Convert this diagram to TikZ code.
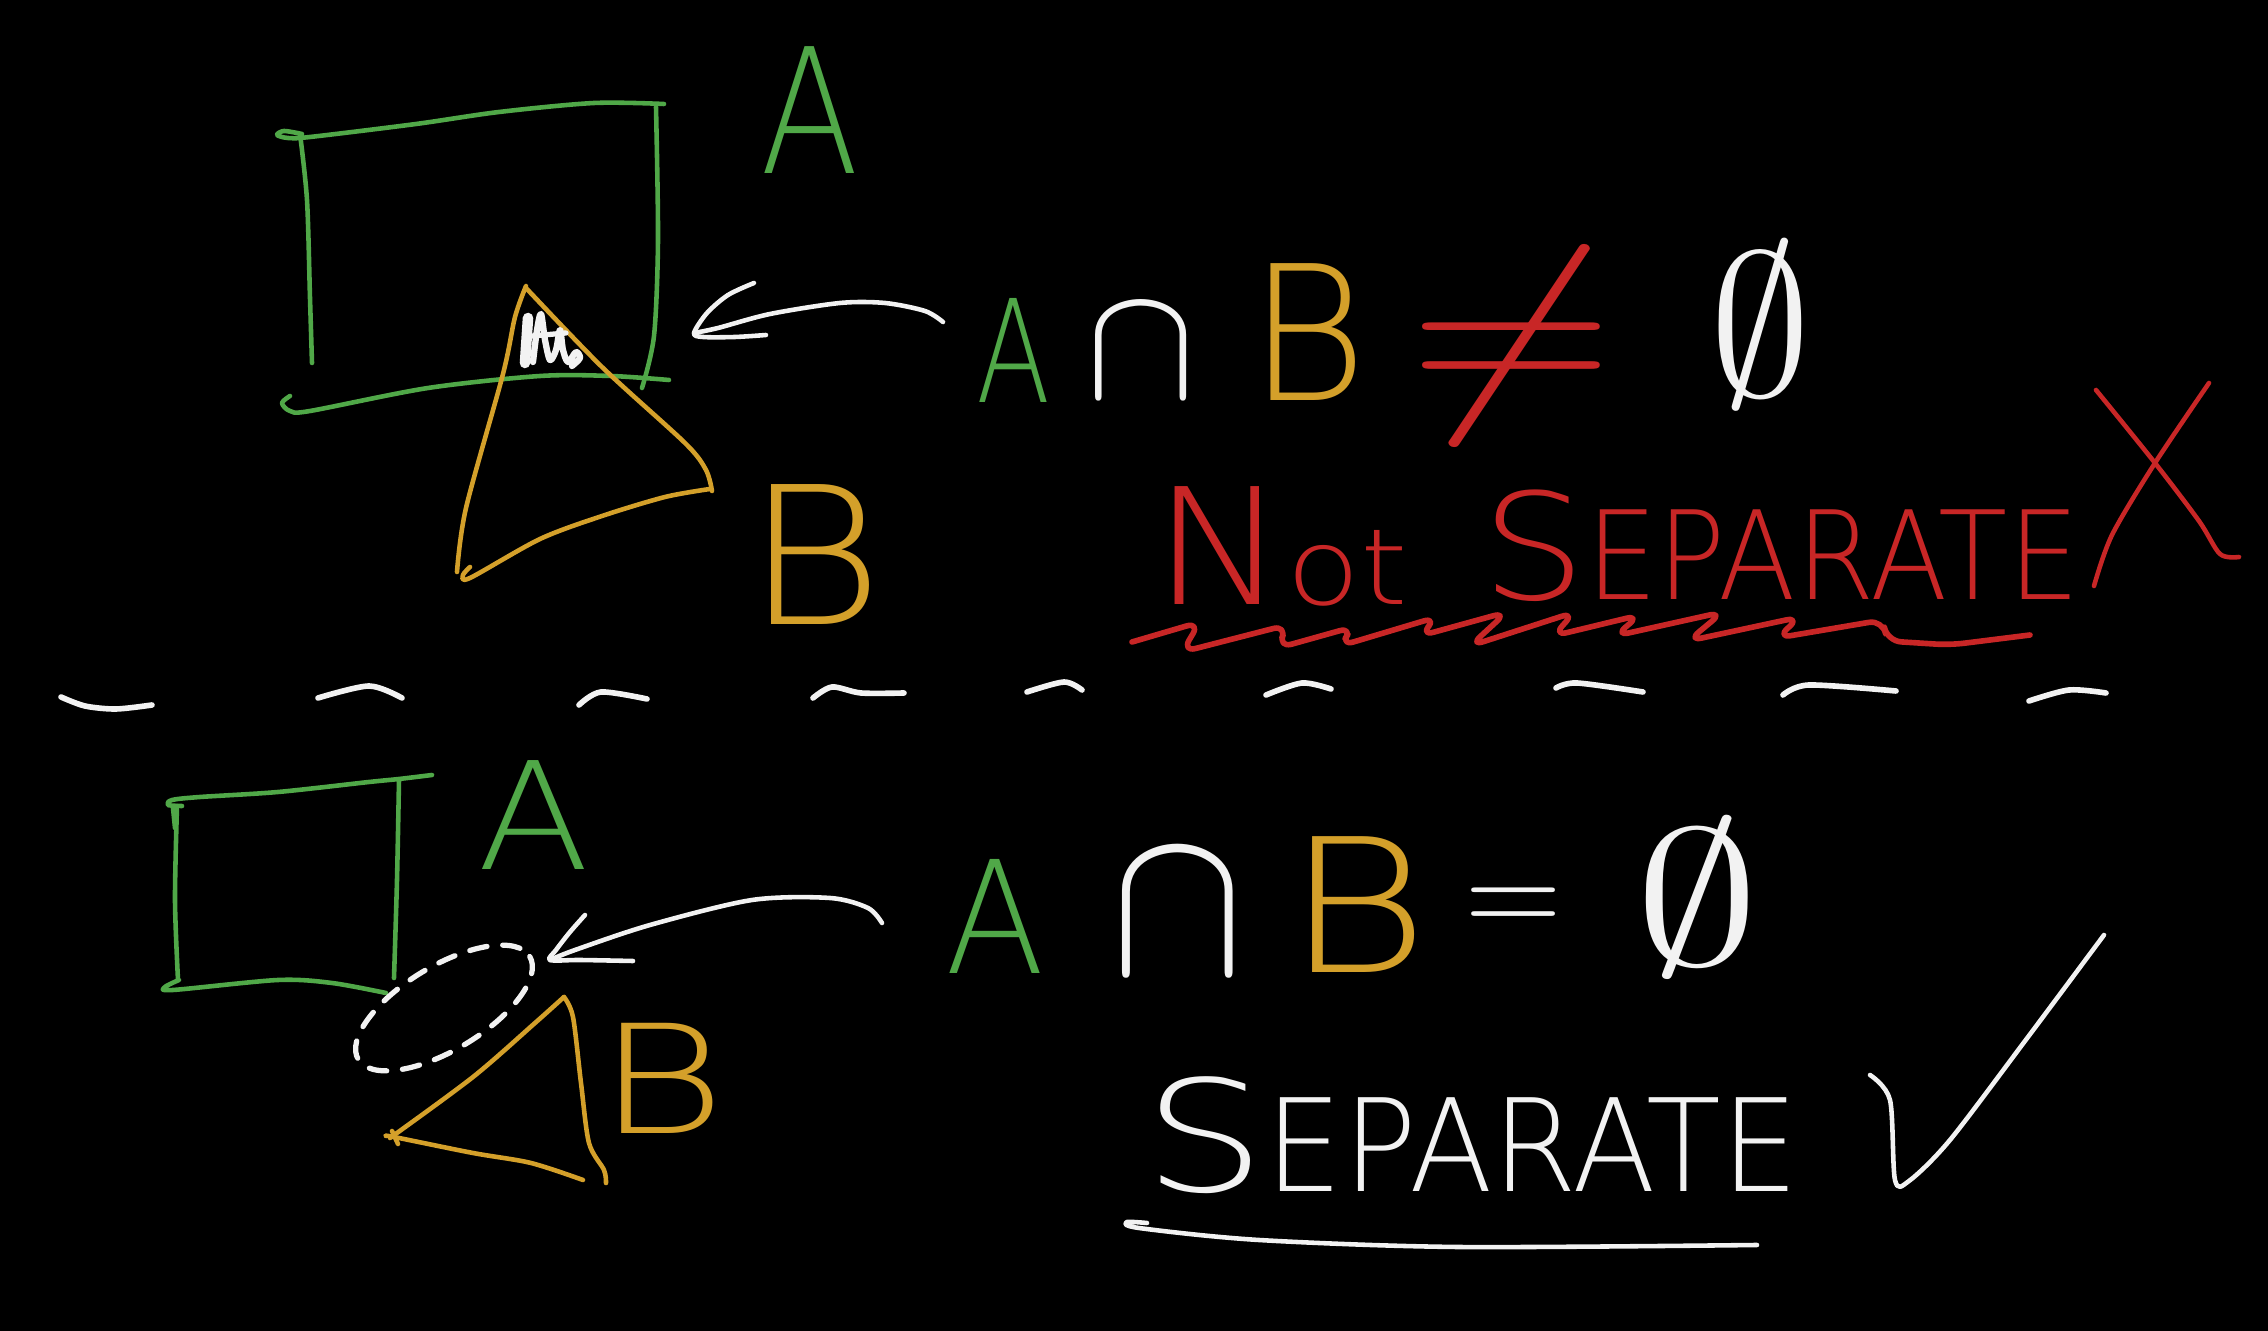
\RequirePackage{fix-cm}
\documentclass[tikz,border=0pt]{standalone}
\usepackage{fontspec}
\newfontfamily\hand{DejaVu Sans ExtraLight}
\definecolor{hgreen}{RGB}{80,168,72}
\definecolor{hgold}{RGB}{212,160,42}
\definecolor{hred}{RGB}{200,38,38}
\definecolor{hwhite}{RGB}{242,242,242}
\newcommand\hsz[1]{\fontsize{#1}{#1}\selectfont}
\newcommand\hx[2]{\scalebox{#1}[1]{#2}}
\tikzset{
  hs/.style={line width=1.3pt, line cap=round, line join=round},
  gstroke/.style={hs, draw=hgreen},
  ostroke/.style={hs, draw=hgold},
  wstroke/.style={hs, draw=hwhite},
  rstroke/.style={hs, draw=hred},
  dashw/.style={hs, draw=hwhite, line width=1.6pt},
  lbl/.style={inner sep=0pt, outer sep=0pt, font=\hand},
}
\begin{document}
\begin{tikzpicture}[x=0.01cm,y=-0.01cm]
\fill[black] (0,0) rectangle (2268,1331);
\useasboundingbox (0,0) rectangle (2268,1331);

% ---------- top: rectangle A ----------
\draw[gstroke] plot[smooth] coordinates {(302,134) (284,131) (277,135) (288,138) (310,137) (416,124) (499,112) (594,103) (664,104)};
\draw[gstroke] plot[smooth] coordinates {(300,134) (307,200) (310,298) (312,363)};
\draw[gstroke] plot[smooth] coordinates {(656,107) (658,240) (654,336) (642,388)};
\draw[gstroke] plot[smooth] coordinates {(290,396) (282,403) (290,411) (310,411) (428,388) (540,376) (611,376) (669,380)};
% ---------- top: triangle B ----------
\draw[ostroke] plot[smooth] coordinates {(526,286) (515,317) (503,374) (466,508) (457,572)};
\draw[ostroke] plot[smooth] coordinates {(470,567) (463,575) (470,578) (540,539) (602,516) (665,497) (710,489)};
\draw[ostroke] plot[smooth] coordinates {(526,288) (602,367) (685,443) (706,470) (712,491)};
% scribble in the overlap
\draw[wstroke, line width=3pt] (528,318) -- (525,363);
\draw[wstroke, line width=1.8pt] plot[smooth] coordinates {(533,362) (537,330) (541,314) (545,340) (550,360) (556,350) (560,330) (563,350) (568,362) (576,352) (580,358) (572,366)};
\draw[wstroke, line width=1.5pt] (532,336) -- (566,333);

% labels top
\node[lbl,text=hgreen] (Atop) at (810,110) {\hsz{49.5}\hx{.83}{A}};
\node[lbl,text=hgold] (Btop) at (815,555) {\hsz{54.6}\hx{1.1}{B}};

% formula top
\node[lbl,text=hgreen] (fA1) at (1014,350) {\hsz{40.6}\hx{.76}{A}};
\node[lbl,text=hwhite] (fcap1) at (1141,352) {\hsz{46.6}$\cap$};
\node[lbl,text=hgold] (fB1) at (1308,332) {\hsz{53.4}\hx{.97}{B}};
\node[lbl,text=hred] (fneq) at (1512,346) {\hsz{62}\hx{1.3}{$\neq$}};
\node[lbl,text=hwhite] (fempty1) at (1760,325) {\hsz{58}$\emptyset$};

% arrow top
\coordinate (aTtail) at (943,322);
\coordinate (aTtip) at (694,333);
\draw[wstroke] plot[smooth] coordinates {(aTtail) (925,311) (885,303) (840,303) (770,314) (718,328) (aTtip)};
\draw[wstroke] plot[smooth] coordinates {(754,283) (728,295) (707,313) (aTtip) (703,337) (735,337) (766,335)};

% Not SEPARATE
\node[lbl,text=hred,anchor=base west] (notw) at (1153,605) {\hsz{46}\hx{1.1}{N}\hsz{30}\hx{1.15}{ot}};
\node[lbl,text=hred,anchor=base west] (sepw) at (1481,600) {\hsz{42}\hx{1.12}{S}\hsz{35}\hx{.92}{EPARATE}};
\draw[rstroke, line width=1.6pt, rounded corners=4] (1132,642) -- (1200,622) -- (1182,652) -- (1287,625) -- (1278,648) -- (1353,627) -- (1340,646) -- (1437,617) -- (1420,636) -- (1507,612) -- (1470,646) -- (1575,612) -- (1553,636) -- (1640,615) -- (1615,636) -- (1723,612) -- (1688,641) -- (1800,617) -- (1777,638) -- (1883,620) -- (1887,641) -- (1950,645) -- (2030,635);
% red X
\draw[rstroke] plot[smooth] coordinates {(2096,390) (2155,463) (2199,521) (2220,554) (2239,557)};
\draw[rstroke] plot[smooth] coordinates {(2209,383) (2155,463) (2112,535) (2094,586)};

% ---------- separator ----------
\draw[dashw] plot[smooth] coordinates {(61,697) (85,706) (116,709) (152,705)};
\draw[dashw] plot[smooth] coordinates {(318,698) (369,686) (402,698)};
\draw[dashw] plot[smooth] coordinates {(579,705) (601,692) (647,699)};
\draw[dashw] plot[smooth] coordinates {(813,698) (832,687) (861,693) (904,693)};
\draw[dashw] plot[smooth] coordinates {(1027,692) (1064,682) (1082,690)};
\draw[dashw] plot[smooth] coordinates {(1266,695) (1302,683) (1331,689)};
\draw[dashw] plot[smooth] coordinates {(1556,688) (1577,683) (1643,692)};
\draw[dashw] plot[smooth] coordinates {(1783,695) (1809,685) (1896,691)};
\draw[dashw] plot[smooth] coordinates {(2029,701) (2069,690) (2106,693)};

% ---------- bottom: rectangle A ----------
\draw[gstroke] plot[smooth] coordinates {(182,806) (168,805) (172,800) (200,797) (278,792) (369,782) (399,779) (432,775)};
\draw[gstroke] (173,808) -- (175,828);
\draw[gstroke] plot[smooth] coordinates {(177,806) (175,900) (178,980)};
\draw[gstroke] plot[smooth] coordinates {(399,780) (397,880) (394,978)};
\draw[gstroke] plot[smooth] coordinates {(179,980) (165,987) (173,990) (278,980) (332,983) (386,993)};
\node[lbl,text=hgreen] (Abot) at (534,815) {\hsz{42.5}\hx{1.1}{A}};

% dashed region
\draw[hs, draw=hwhite, line width=1.5pt, dash pattern=on 5pt off 4.5pt, rotate around={31:(444,1008)}] (444,1008) ellipse [x radius=100, y radius=42];

% bottom triangle B
\draw[ostroke] plot[smooth] coordinates {(390,1138) (473,1077) (535,1023) (564,997)};
\draw[ostroke] plot[smooth] coordinates {(564,997) (573,1017) (581,1083) (589,1143) (604,1170) (606,1183)};
\draw[ostroke] plot[smooth] coordinates {(386,1136) (394,1137) (473,1153) (531,1163) (583,1180)};
\draw[ostroke] (392,1131) -- (398,1144);
\node[lbl,text=hgold] (Bbot) at (662,1078) {\hsz{43}\hx{1.3}{B}};

% arrow bottom
\coordinate (aBtail) at (882,923);
\coordinate (aBtip) at (550,960);
\draw[wstroke] plot[smooth] coordinates {(aBtail) (868,908) (830,898) (752,900) (650,925) (575,950) (aBtip)};
\draw[wstroke] plot[smooth] coordinates {(585,915) (570,932) (556,950) (aBtip) (580,960) (633,961)};

% formula bottom
\node[lbl,text=hgreen] (fA2) at (995,916) {\hsz{44.5}\hx{.93}{A}};
\node[lbl,text=hwhite] (fcap2) at (1178,913) {\hsz{61.5}\hx{.92}{$\cap$}};
\node[lbl,text=hgold] (fB2) at (1357,905) {\hsz{53}\hx{1.18}{B}};
\node[lbl,text=hwhite] (feq) at (1514,912) {\hsz{38}$=$};
\node[lbl,text=hwhite] (fempty2) at (1697,897) {\hsz{55}\hx{1.3}{$\emptyset$}};

% SEPARATE
\node[lbl,text=hwhite,anchor=base west] (sepw2) at (1143,1192) {\hsz{44}\hx{1.25}{S}\hsz{36.6}\hx{.95}{EPARATE}};
\draw[wstroke] plot[smooth] coordinates {(1147,1223) (1127,1222) (1139,1228) (1259,1240) (1458,1247) (1757,1245)};
% check mark
\draw[wstroke] plot[smooth] coordinates {(1870,1075) (1890,1100) (1895,1180) (1909,1181) (1950,1140) (2025,1041) (2104,935)};
\end{tikzpicture}
\end{document}
